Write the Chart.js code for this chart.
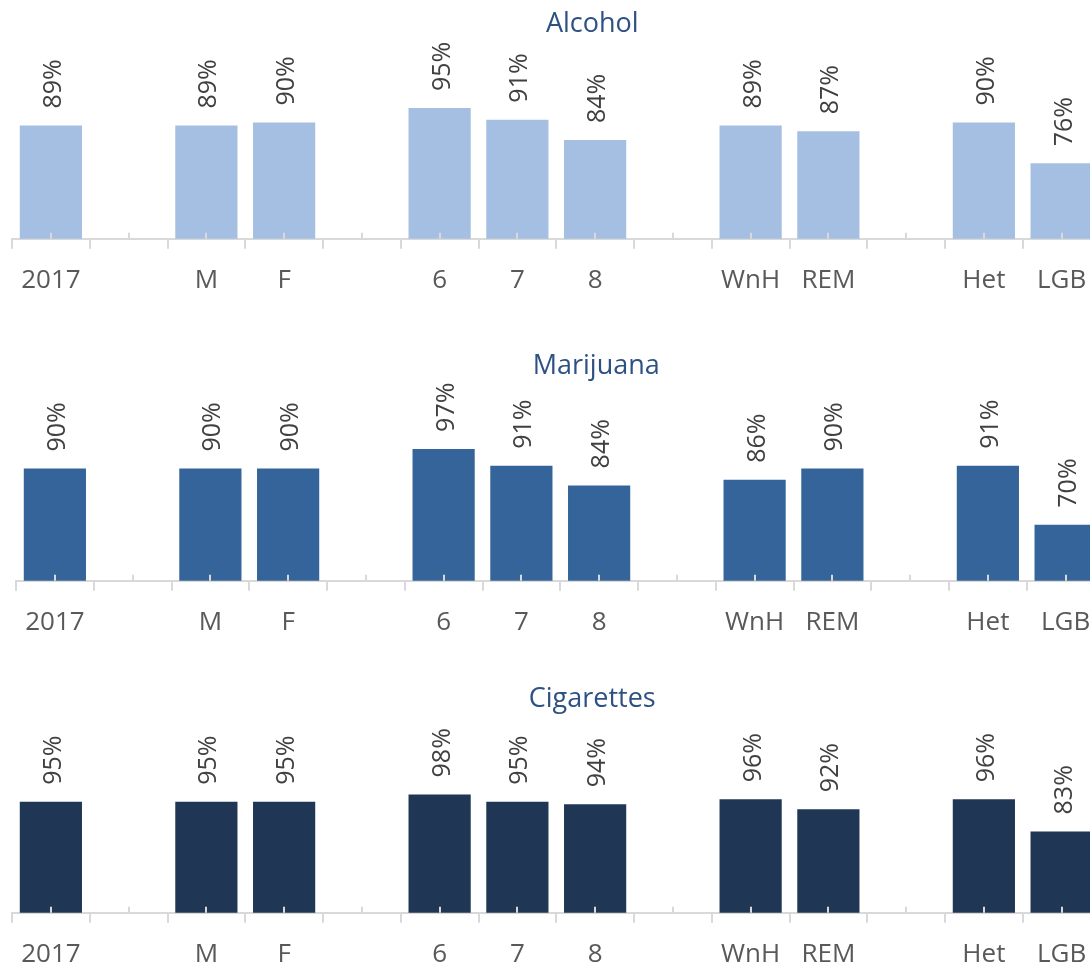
<!DOCTYPE html>
<html>
<head>
<meta charset="utf-8">
<script src="https://cdn.jsdelivr.net/npm/chart.js@4.4.0/dist/chart.umd.min.js"></script>
<style>
  html, body { margin: 0; padding: 0; background: #fff; overflow: hidden; width: 1090px; height: 963px; }
  canvas { position: absolute; left: 0; }
</style>
</head>
<body>
<canvas id="alcohol" width="1112" height="320" style="top:0px"></canvas>
<canvas id="marijuana" width="1112" height="322" style="top:340px"></canvas>
<canvas id="cigarettes" width="1112" height="319" style="top:675px"></canvas>
<script>
// categories (blank ones are spacers between groups)
const categories = ['2017', '', 'M', 'F', '', '6', '7', '8', '', 'WnH', 'REM', '', 'Het', 'LGB'];

// percentages
const alcoholValues    = [89, null, 89, 90, null, 95, 91, 84, null, 89, 87, null, 90, 76];
const marijuanaValues  = [90, null, 90, 90, null, 97, 91, 84, null, 86, 90, null, 91, 70];
const cigaretteValues  = [95, null, 95, 95, null, 98, 95, 94, null, 96, 92, null, 96, 83];

const axisGrey = '#d9d9d9';
const textGrey = '#595959';
const labelGrey = '#404040';
const titleBlue = '#2E5183';
const fontName = '"Open Sans"';

// rotated value labels, small inner ticks and the panel title
const panelDecor = {
    id: 'panelDecor',
    afterDatasetsDraw(chart, args, opts) {
        const ctx = chart.ctx;
        const xScale = chart.scales.x;
        const area = chart.chartArea;

        // small upward ticks at category centres
        ctx.save();
        ctx.strokeStyle = axisGrey;
        ctx.lineWidth = 2;
        categories.forEach((c, i) => {
            const x = Math.round(xScale.getPixelForValue(i));
            ctx.beginPath();
            ctx.moveTo(x, area.bottom - 6);
            ctx.lineTo(x, area.bottom);
            ctx.stroke();
        });
        ctx.restore();

        // value labels
        const meta = chart.getDatasetMeta(0);
        const data = chart.data.datasets[0].data;
        ctx.save();
        ctx.fillStyle = labelGrey;
        ctx.font = '25px ' + fontName;
        ctx.textAlign = 'left';
        ctx.textBaseline = 'alphabetic';
        meta.data.forEach((bar, i) => {
            if (data[i] == null) return;
            ctx.save();
            ctx.translate(bar.x, bar.y - 17);
            ctx.rotate(-Math.PI / 2);
            ctx.fillText(data[i] + '%', 0, 10);
            ctx.restore();
        });
        ctx.restore();

        // title
        ctx.save();
        ctx.fillStyle = titleBlue;
        ctx.font = '27px ' + fontName;
        ctx.textAlign = 'center';
        ctx.textBaseline = 'middle';
        ctx.fillText(opts.text, (area.left + area.right) / 2 + 36, opts.y);
        ctx.restore();
    }
};

function makePanel(id, title, values, color, pad, titleY) {
    new Chart(document.getElementById(id), {
        type: 'bar',
        data: {
            labels: categories,
            datasets: [{
                data: values,
                backgroundColor: color,
                barPercentage: 0.8,
                categoryPercentage: 1.0
            }]
        },
        plugins: [panelDecor],
        options: {
            responsive: false,
            animation: false,
            layout: { padding: pad },
            plugins: {
                legend: { display: false },
                tooltip: { enabled: false },
                panelDecor: { text: title, y: titleY }
            },
            scales: {
                x: {
                    offset: true,
                    border: { display: true, color: axisGrey, width: 2 },
                    grid: {
                        offset: true,
                        drawOnChartArea: false,
                        drawTicks: true,
                        tickLength: 10,
                        color: axisGrey,
                        lineWidth: 2
                    },
                    ticks: {
                        color: textGrey,
                        font: { family: fontName, size: 26 },
                        padding: 16,
                        autoSkip: false,
                        maxRotation: 0
                    }
                },
                y: {
                    display: false,
                    min: 50,
                    max: 100
                }
            }
        }
    });
}

makePanel('alcohol', 'Alcohol', alcoholValues, '#A4BFE2',
    { left: 12, right: 11.5, top: 93.5, bottom: 8 }, 24);
makePanel('marijuana', 'Marijuana', marijuanaValues, '#34649A',
    { left: 16, right: 7.5, top: 100.5, bottom: 8 }, 26);
makePanel('cigarettes', 'Cigarettes', cigaretteValues, '#1F3654',
    { left: 12, right: 11.5, top: 114.5, bottom: 8 }, 24);
</script>
</body>
</html>
